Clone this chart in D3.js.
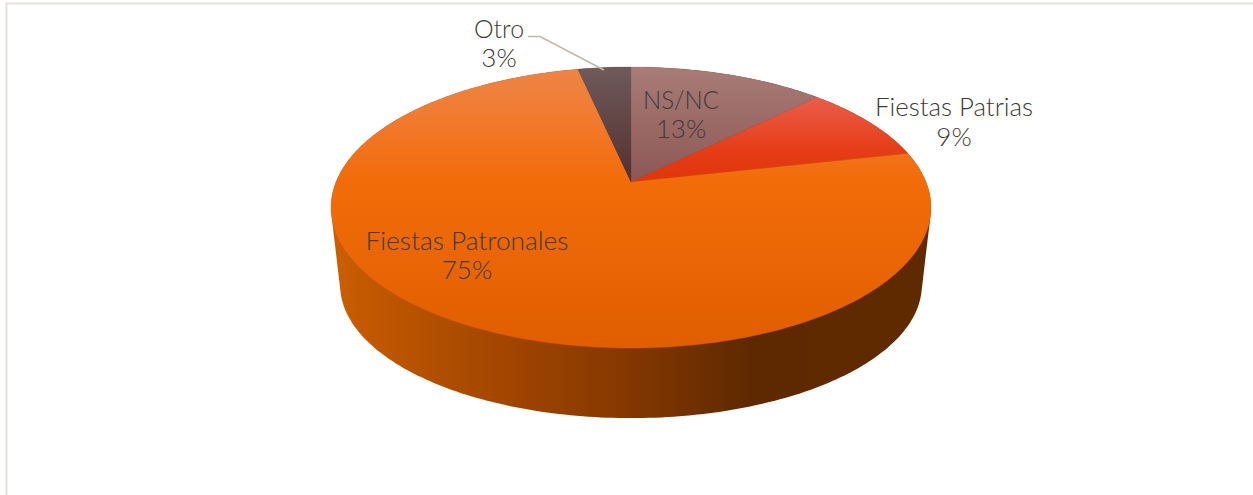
<!DOCTYPE html>
<html><head><meta charset="utf-8">
<script src="https://cdn.jsdelivr.net/npm/d3@7"></script>
<style>html,body{margin:0;background:#fff;overflow:hidden}svg{display:block}
text{font-family:Lato,"Noto Sans",sans-serif;font-weight:300;font-size:26px;fill:#3d3a38}</style>
</head><body><svg id="c" width="1253" height="495"></svg>
<script>
const categories=["NS/NC","Fiestas Patrias","Fiestas Patronales","Otro"];
const values=[12.6,8.9,75.1,3.4];
const labels=["13%","9%","75%","3%"];
const colorStops=[
 [[0,"#a87c78"],[.42,"#8b5654"],[1,"#8b5654"]],
 [[0,"#ec7060"],[.12,"#e95c47"],[.3,"#e63c17"],[.42,"#de3508"],[1,"#de3508"]],
 [[0,"#ee8446"],[.12,"#f07e38"],[.4,"#f36c0a"],[1,"#e05e00"]],
 [[0,"#6f5a5a"],[.4,"#553030"],[1,"#553030"]]];
const svg=d3.select("#c"),W=1253,H=495;
const k=.1815;
const top_={cx:631,cy:182,a:295,b:135.9};
const bot={cx:631,cy:261,a:286,b:128.6};
const proj=(P,t)=>{const u=Math.sin(t),v=Math.cos(t),d=1+k*v;return [P.cx+P.a*u/d,P.cy-P.b*v/d];};
const defs=svg.append("defs");
const yG=d3.scaleLinear().domain([0,1]).range([67,348]);
colorStops.forEach((st,i)=>{const g=defs.append("linearGradient").attr("id","g"+i).attr("gradientUnits","userSpaceOnUse")
 .attr("x1",0).attr("x2",0).attr("y1",yG(0)).attr("y2",yG(1));
 st.forEach(s=>g.append("stop").attr("offset",s[0]).attr("stop-color",s[1]));});
const wg=defs.append("linearGradient").attr("id","wall").attr("gradientUnits","userSpaceOnUse").attr("x1",335).attr("x2",930).attr("y1",0).attr("y2",0);
[[0,"#cb5e00"],[.12,"#b85300"],[.3,"#a04400"],[.5,"#833700"],[.7,"#5e2900"],[1,"#5f2a00"]].forEach(s=>wg.append("stop").attr("offset",s[0]).attr("stop-color",s[1]));
// border
svg.append("path").attr("d","M6.5 495V3.5H1253").attr("fill","none").attr("stroke","#e6e0da").attr("stroke-width",2);
const line=d3.line().curve(d3.curveLinear);
const ring=P=>d3.range(0,361,1).map(d=>proj(P,d*Math.PI/180));
// side wall: hull of the top rim and the bottom rim
const hull=d3.polygonHull(ring(top_).concat(ring(bot)));
svg.append("path").attr("d",line(hull)+"Z").attr("fill","url(#wall)");
// top face
const pie=d3.pie().sort(null).value(d=>d)(values);
pie.forEach((s,i)=>{const n=Math.ceil((s.endAngle-s.startAngle)*80);
 const pts=[[top_.cx,top_.cy]].concat(d3.range(n+1).map(j=>proj(top_,s.startAngle+(s.endAngle-s.startAngle)*j/n)));
 svg.append("path").attr("d",line(pts)+"Z").attr("fill",`url(#g${i})`).attr("stroke",`url(#g${i})`).attr("stroke-width",.3);});
// leader
svg.append("path").attr("d","M528 36.5H540L604 70").attr("fill","none").attr("stroke","#bfb8ae").attr("stroke-width",1.6);
// labels
const lp=[[681,109,138],[954,116,146],[467,250,279],[499,38,67]];
const tw=[76,158,203,50];
categories.forEach((c,i)=>{
 svg.append("text").attr("x",lp[i][0]).attr("y",lp[i][1]).attr("text-anchor","middle").attr("textLength",tw[i]).attr("lengthAdjust","spacingAndGlyphs").text(c);
 svg.append("text").attr("x",lp[i][0]).attr("y",lp[i][2]).attr("text-anchor","middle").text(labels[i]);
});
</script></body></html>
